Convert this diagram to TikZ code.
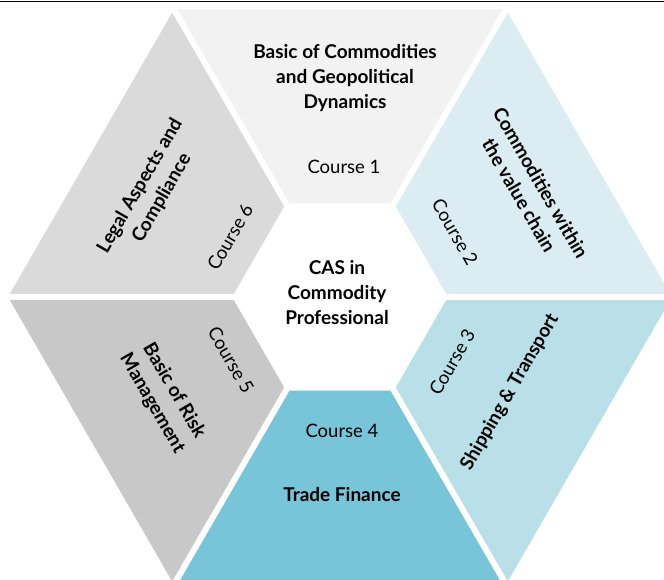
\documentclass[tikz,border=0pt]{standalone}
\usepackage{fontspec}
\setmainfont{Lato}
\usepackage{tikz}
\usetikzlibrary{positioning}
\definecolor{courseone}{RGB}{242,242,242}
\definecolor{coursetwo}{RGB}{219,237,243}
\definecolor{coursethree}{RGB}{185,224,233}
\definecolor{coursefour}{RGB}{120,196,216}
\definecolor{coursefive}{RGB}{200,200,200}
\definecolor{coursesix}{RGB}{218,218,218}

\begin{document}
\begin{tikzpicture}[
    x=1pt, y=1pt,
    title/.style={font=\bfseries\fontsize{19}{25}\selectfont, align=center, inner sep=0pt},
    course/.style={font=\fontsize{18.5}{25}\selectfont, inner sep=0pt},
    gap/.style={white, line width=6pt}
]
    \useasboundingbox (-340,-283) rectangle (324,297);

    % Ring segments
    \begin{scope}
        \clip (-340,-283) rectangle (324,297);
        \foreach \a/\c in {60/courseone, 0/coursetwo, -60/coursethree, -120/coursefour, 180/coursefive, 120/coursesix}
            \fill[\c] (\a:108) -- (\a:332) -- (\a+60:332) -- (\a+60:108) -- cycle;
        \foreach \a in {0,60,...,300}
            \draw[gap] (\a:100) -- (\a:345);
    \end{scope}
    \draw[line width=1pt] (-340,295.5) -- (324,295.5);

    % Centre
    \node[title] (cas) at (-3,4) {CAS in\\Commodity\\Professional};

    % Course titles
    \node[title] (basics) at (5,219) {Basic of Commodities\\and Geopolitical\\Dynamics};
    \node[title, rotate=-60] (valuechain) at (190,108) {Commodities within\\the value chain};
    \node[title, rotate=60] (shipping) at (170,-95) {Shipping \& Transport};
    \node[title] (finance) at (2,-198) {Trade Finance};
    \node[title, rotate=-60] (risk) at (-177,-100) {Basic of Risk\\Management};
    \node[title, rotate=60] (legal) at (-189,105) {Legal Aspects and\\Compliance};

    % Course numbers
    \node[course] (c1) at (4,130) {Course 1};
    \node[course, rotate=-60] (c2) at (115,65) {Course 2};
    \node[course, rotate=60] (c3) at (112,-65) {Course 3};
    \node[course] (c4) at (2,-134) {Course 4};
    \node[course, rotate=-60] (c5) at (-109,-63) {Course 5};
    \node[course, rotate=60] (c6) at (-110,60) {Course 6};
\end{tikzpicture}
\end{document}
